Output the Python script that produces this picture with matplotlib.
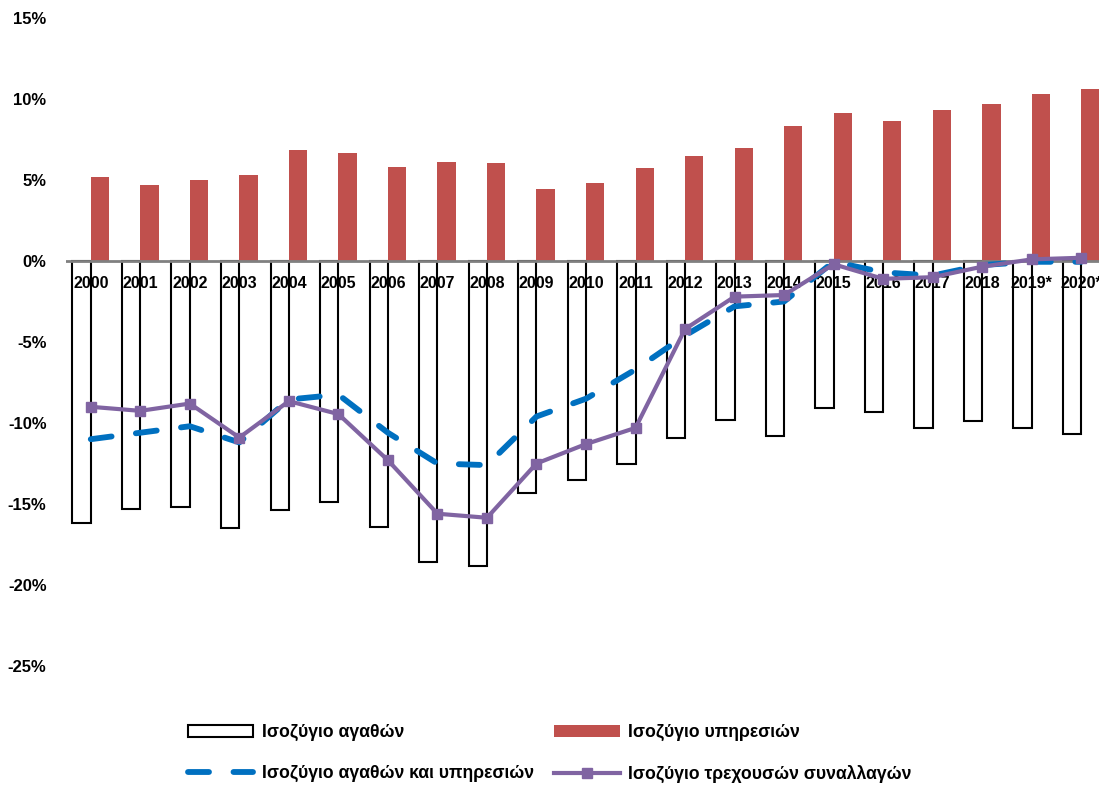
"""Greek balance of payments components, % of GDP, 2000-2020."""
import matplotlib
matplotlib.use("Agg")
import matplotlib.pyplot as plt

years = ["2000", "2001", "2002", "2003", "2004", "2005", "2006", "2007", "2008",
         "2009", "2010", "2011", "2012", "2013", "2014", "2015", "2016", "2017",
         "2018", "2019*", "2020*"]
goods = [-16.2, -15.3, -15.2, -16.5, -15.4, -14.9, -16.4, -18.6, -18.8, -14.3,
         -13.5, -12.5, -10.9, -9.8, -10.8, -9.1, -9.3, -10.3, -9.9, -10.3, -10.7]
services = [5.2, 4.7, 5.0, 5.3, 6.85, 6.65, 5.8, 6.1, 6.05, 4.45, 4.8, 5.75,
            6.5, 7.0, 8.35, 9.15, 8.65, 9.3, 9.7, 10.3, 10.6]
goods_services = [-11.0, -10.6, -10.2, -11.2, -8.55, -8.25, -10.6, -12.5, -12.6,
                  -9.6, -8.5, -6.7, -4.6, -2.8, -2.5, -0.05, -0.7, -0.9, -0.25,
                  -0.05, -0.05]
current_account = [-9.0, -9.25, -8.8, -10.9, -8.65, -9.45, -12.3, -15.6, -15.85,
                   -12.5, -11.3, -10.3, -4.2, -2.2, -2.1, -0.2, -1.1, -1.0, -0.35,
                   0.1, 0.2]
yticks = [15, 10, 5, 0, -5, -10, -15, -20, -25]

RED, BLUE, PURPLE = "#C0504D", "#0070C0", "#8064A2"
plt.rcParams["font.family"] = ["Liberation Sans", "DejaVu Sans"]

W, H = 1099, 785
fig = plt.figure(figsize=(W / 100, H / 100), dpi=100)
ax = fig.add_axes([66 / W, (H - 666) / H, (1106 - 66) / W, (666 - 18) / H])

x = list(range(len(years)))
bw = 0.37
b_goods = ax.bar([i - bw / 2 for i in x], goods, bw, facecolor="white",
                 edgecolor="black", linewidth=1.5, label="Ισοζύγιο αγαθών",
                 zorder=2)
b_serv = ax.bar([i + bw / 2 for i in x], services, bw, color=RED,
                label="Ισοζύγιο υπηρεσιών", zorder=2)
ax.axhline(0, color="#808080", linewidth=2, zorder=3)

# year labels sit just under the zero line, between the bars
for i, lab in enumerate(years):
    ax.text(i, -1.4, lab, ha="center", va="center", fontsize=11.5,
            fontweight="bold", zorder=4)

l_gs, = ax.plot(x, goods_services, color=BLUE, linewidth=4.2,
                dashes=(3.6, 4.2), dash_capstyle="round", zorder=5,
                label="Ισοζύγιο αγαθών και υπηρεσιών")
l_ca, = ax.plot(x, current_account, color=PURPLE, linewidth=3.0, marker="s",
                markersize=7.5, zorder=6, label="Ισοζύγιο τρεχουσών συναλλαγών")

ax.set_xlim(-0.5, len(years) - 0.5)
ax.set_ylim(-25, 15)
ax.set_yticks(yticks)
ax.set_yticklabels([f"{v}%" for v in yticks], fontsize=12, fontweight="bold")
ax.set_xticks([])
ax.tick_params(axis="y", length=0, pad=14)
for sp in ax.spines.values():
    sp.set_visible(False)

fig.legend([b_goods, l_gs, b_serv, l_ca],
           [b_goods.get_label(), l_gs.get_label(), b_serv.get_label(),
            l_ca.get_label()],
           ncol=2, loc="upper left", bbox_to_anchor=(172 / W, 1 - 708 / H),
           frameon=False, handlelength=3.7, handletextpad=0.5,
           columnspacing=1.15, labelspacing=1.35,
           prop={"size": 12.7, "weight": "bold"})

fig.savefig("out.png", dpi=100)
